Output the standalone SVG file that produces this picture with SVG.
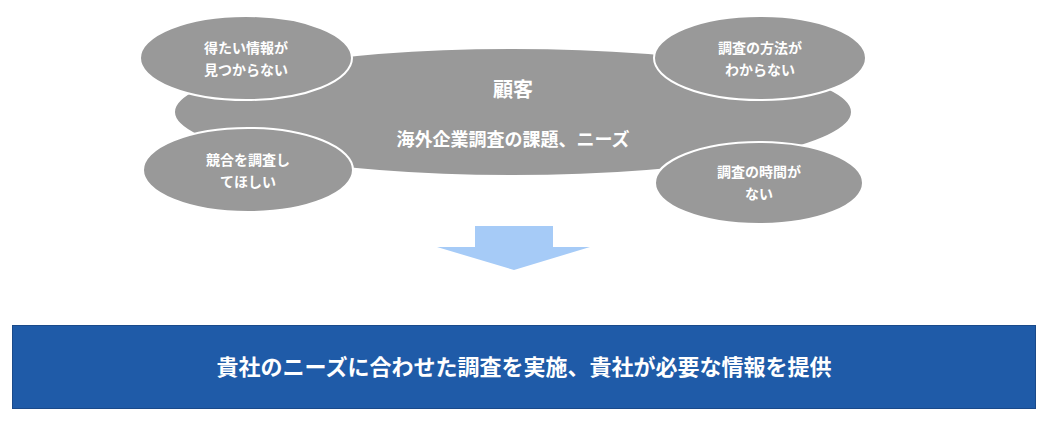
<svg xmlns="http://www.w3.org/2000/svg" width="1049" height="423" viewBox="0 0 1049 423">
<style>
.e{fill:#999999;stroke:#ffffff;stroke-width:2}
.t{font-family:"Noto Sans CJK JP","Liberation Sans",sans-serif;fill:#ffffff;font-weight:bold;text-anchor:middle}
.s{font-size:14px}
</style>
<rect width="1049" height="423" fill="#ffffff"/>
<g id="customer"><ellipse class="e" cx="513" cy="112" rx="339" ry="64"/>
<text class="t" x="513" y="97" font-size="20">顧客</text>
<text class="t" x="513" y="146" font-size="18">海外企業調査の課題、ニーズ</text></g>
<g id="n1"><ellipse class="e" cx="246" cy="58" rx="106" ry="42"/>
<text class="t s" x="246" y="53">得たい情報が</text><text class="t s" x="246" y="75">見つからない</text></g>
<g id="n2"><ellipse class="e" cx="760" cy="58" rx="106" ry="42"/>
<text class="t s" x="760" y="53">調査の方法が</text><text class="t s" x="760" y="75">わからない</text></g>
<g id="n3"><ellipse class="e" cx="248" cy="170" rx="105" ry="42"/>
<text class="t s" x="248" y="165">競合を調査し</text><text class="t s" x="248" y="187">てほしい</text></g>
<g id="n4"><ellipse class="e" cx="759" cy="183" rx="104" ry="41"/>
<text class="t s" x="759" y="177">調査の時間が</text><text class="t s" x="759" y="199">ない</text></g>
<g id="connectors"><path d="M475 226H553V247H590L514 270L437 247H475Z" fill="#a6cbf7"/></g>
<g id="result"><rect x="12.5" y="325.5" width="1023" height="83" fill="#1f5ba8" stroke="#1a4a8a"/>
<text class="t" x="524" y="375" font-size="22" font-weight="normal">貴社のニーズに合わせた調査を実施、貴社が必要な情報を提供</text></g>
</svg>
